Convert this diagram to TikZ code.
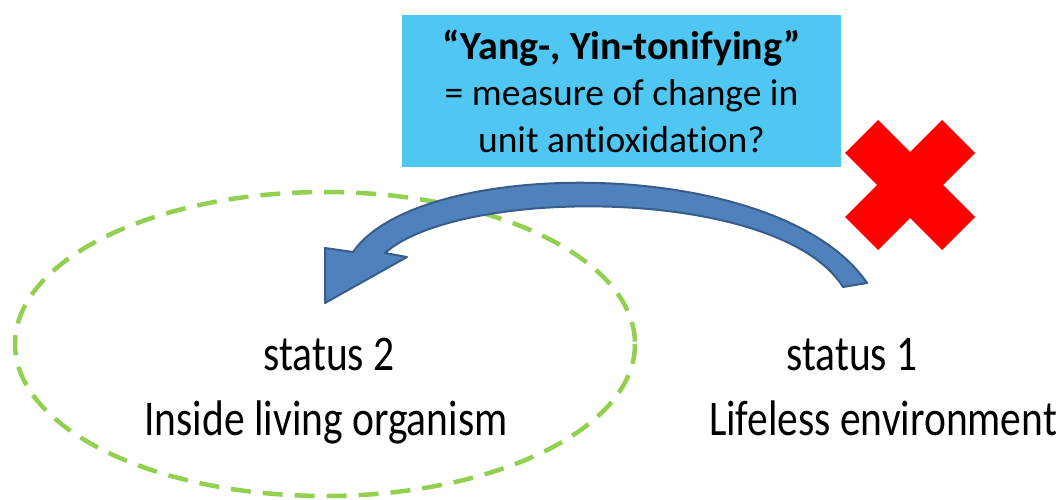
\documentclass[tikz,border=0pt]{standalone}
\usepackage{fontspec}
\setmainfont{Carlito}[Ligatures=NoCommon]
\newfontfamily\squeezefont[FakeStretch=0.83, Ligatures=NoCommon]{Carlito}
\usepackage{tikz}
\usetikzlibrary{calc}

\definecolor{skyblue}{RGB}{80,199,242}
\definecolor{arrowblue}{RGB}{79,129,189}
\definecolor{arrowedge}{RGB}{56,93,138}
\definecolor{leafgreen}{RGB}{146,208,80}

\tikzset{
	statustext/.style={anchor=base, inner sep=0pt, font=\squeezefont\fontsize{50}{60}\selectfont},
	questionbox/.style={fill=skyblue, minimum width=439pt, minimum height=152pt, inner sep=0pt, align=center, font=\fontsize{37.5}{46.5}\selectfont}
}

\begin{document}
\begin{tikzpicture}[x=1pt, y=-1pt]
	%%%%% START %%%%%
	
	\useasboundingbox (0, 0) rectangle (1063, 499);
	
	\draw[leafgreen, line width=4.5pt, dash pattern=on 20pt off 12pt] (325, 344) ellipse [x radius=310, y radius=152];
	
	\node[questionbox] (question) at (621.5, 91) {{\fontsize{40}{46.5}\selectfont\bfseries “Yang-, Yin-tonifying”}\\= measure of change in\\unit antioxidation?};
	
	\begin{scope}[shift={(910, 185)}]
		\fill[red] (-32, -65) -- (0, -33) -- (32, -65) -- (65, -32) -- (33, 0) -- (65, 32) -- (32, 65) -- (0, 33) -- (-32, 65) -- (-65, 32) -- (-33, 0) -- (-65, -32) -- cycle;
	\end{scope}
	
	\node[statustext] (status2) at (329, 370) {status 2};
	\node[statustext] (inside) at (326, 435) {Inside living organism};
	\node[statustext] (status1) at (852, 370) {status 1};
	\node[statustext] (lifeless) at (883, 435) {Lifeless environment};
	
	\draw[line width=2pt, color=arrowedge, fill=arrowblue, line join=round] (867, 283) .. controls (780, 155) and (420, 155) .. (353, 252) -- (325, 248) -- (325, 303) -- (407, 257) -- (385, 253) .. controls (460, 186) and (780, 186) .. (843, 287) -- cycle;
	
	%%%%% END %%%%%
\end{tikzpicture}
\end{document}
